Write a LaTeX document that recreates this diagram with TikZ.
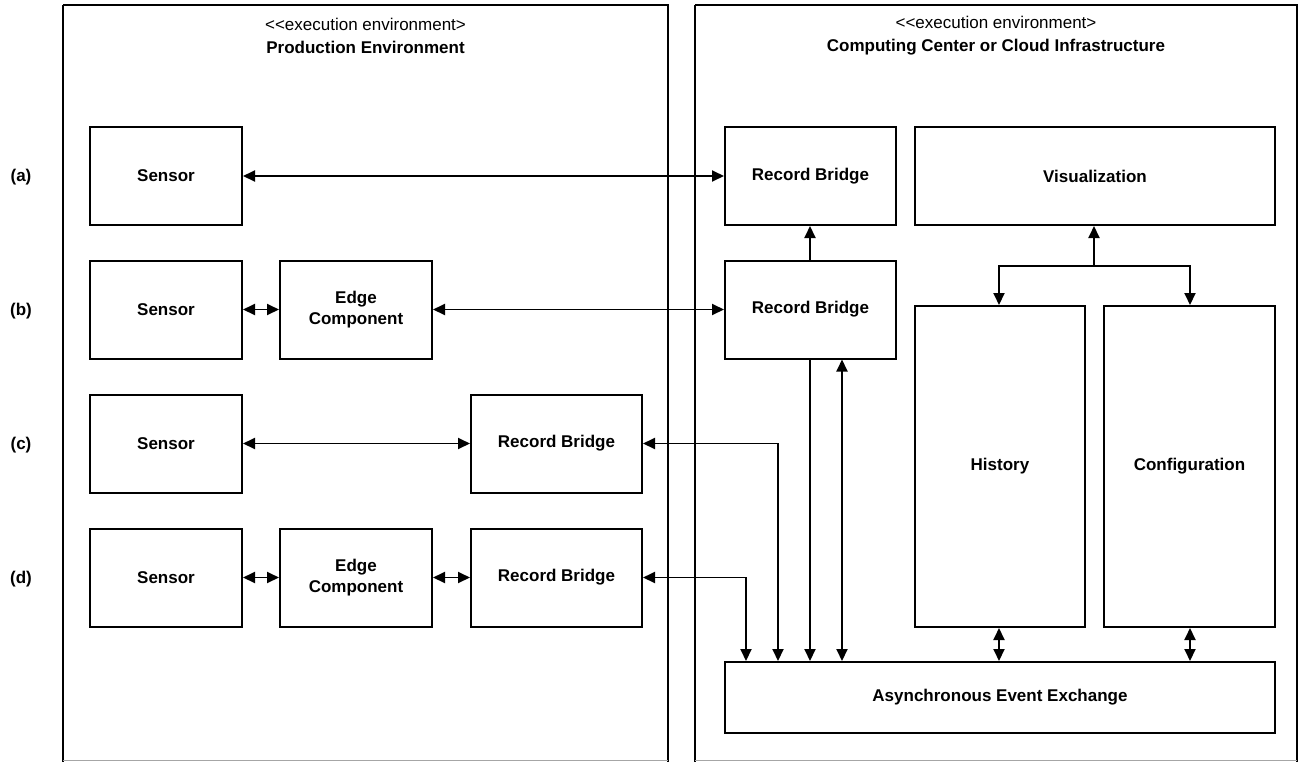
\documentclass[tikz,border=0pt]{standalone}
\usepackage{fontspec}
\setmainfont{Liberation Sans}
\usetikzlibrary{arrows.meta}
\tikzset{
  box/.style={draw=black, line width=2pt, rectangle, inner sep=0pt, minimum width=152pt, minimum height=98pt, font=\fontsize{17}{21}\selectfont\bfseries, align=center},
  widebox/.style={box, minimum width=171pt},
  container/.style={draw=black, line width=1.6pt},
  hdr/.style={align=center, font=\fontsize{17}{23}\selectfont, inner sep=0pt},
  rowlbl/.style={font=\fontsize{17}{21}\selectfont\bfseries, inner sep=0pt},
  conn/.style={line width=1.9pt, -{Triangle[length=12pt,width=11pt]}},
  biconn/.style={line width=1.9pt, {Triangle[length=12pt,width=11pt]}-{Triangle[length=12pt,width=11pt]}},
}
\begin{document}
\begin{tikzpicture}[x=1pt, y=-1pt]
\useasboundingbox (0,0) rectangle (1302,761);
% containers
\draw[container] (63,5) -- (63,762) (63,5) -- (668,5) -- (668,762);
\draw[container] (695,5) -- (695,762) (695,5) -- (1297,5) -- (1297,762);
\draw[black!35, line width=1pt] (63,760) -- (668,760) (695,760) -- (1297,760);
\node[hdr] (hdrL) at (365.5,36) {{<}{<}execution environment{>}\\\textbf{Production Environment}};
\node[hdr] (hdrR) at (996,36) {{<}{<}execution environment{>}\\\textbf{Computing Center or Cloud Infrastructure}};
% row labels
\node[rowlbl] (la) at (21,177) {(a)};
\node[rowlbl] (lb) at (21,311) {(b)};
\node[rowlbl] (lc) at (21,445) {(c)};
\node[rowlbl] (ld) at (21,579) {(d)};
% left boxes
\node[box] (sa) at (166,176) {Sensor};
\node[box] (sb) at (166,309.5) {Sensor};
\node[box] (sc) at (166,443.5) {Sensor};
\node[box] (sd) at (166,577.5) {Sensor};
\node[box] (eb) at (356,309.5) {Edge\\Component};
\node[box] (ed) at (356,577.5) {Edge\\Component};
\node[widebox] (rc) at (556.5,443.5) {Record Bridge};
\node[widebox] (rd) at (556.5,577.5) {Record Bridge};
% right boxes
\node[widebox] (ra) at (810.5,176) {Record Bridge};
\node[widebox] (rb) at (810.5,309.5) {Record Bridge};
\node[box, minimum width=360pt] (vis) at (1095,176) {Visualization};
\node[box, minimum width=170pt, minimum height=321pt] (hist) at (1000,466.5) {History};
\node[box, minimum width=171pt, minimum height=321pt] (conf) at (1189.5,466.5) {Configuration};
\node[box, minimum width=550pt, minimum height=71pt] (async) at (1000,697.5) {Asynchronous Event Exchange};
% connectors
\draw[biconn] (sa) -- (ra);
\draw[biconn] (sb) -- (eb);
\draw[biconn] (eb) -- (rb);
\draw[biconn] (sc) -- (rc);
\draw[biconn] (sd) -- (ed);
\draw[biconn] (ed) -- (rd);
\draw[biconn] (rc.east) -| (async.north -| 778,0);
\draw[biconn] (rd.east) -| (async.north -| 746,0);
\draw[conn] (rb.south -| 810,0) -- (async.north -| 810,0);
\draw[biconn] (rb.south -| 842,0) -- (async.north -| 842,0);
\draw[conn] (rb.north -| 810,0) -- (ra.south -| 810,0);
\coordinate (j) at (1094,266);
\draw[conn] (j) -- (vis.south -| j);
\draw[conn] (j) -| (hist.north -| 999,0);
\draw[conn] (j) -| (conf.north -| 1190,0);
\draw[biconn] (hist.south -| 999,0) -- (async.north -| 999,0);
\draw[biconn] (conf.south -| 1190,0) -- (async.north -| 1190,0);
\end{tikzpicture}
\end{document}
